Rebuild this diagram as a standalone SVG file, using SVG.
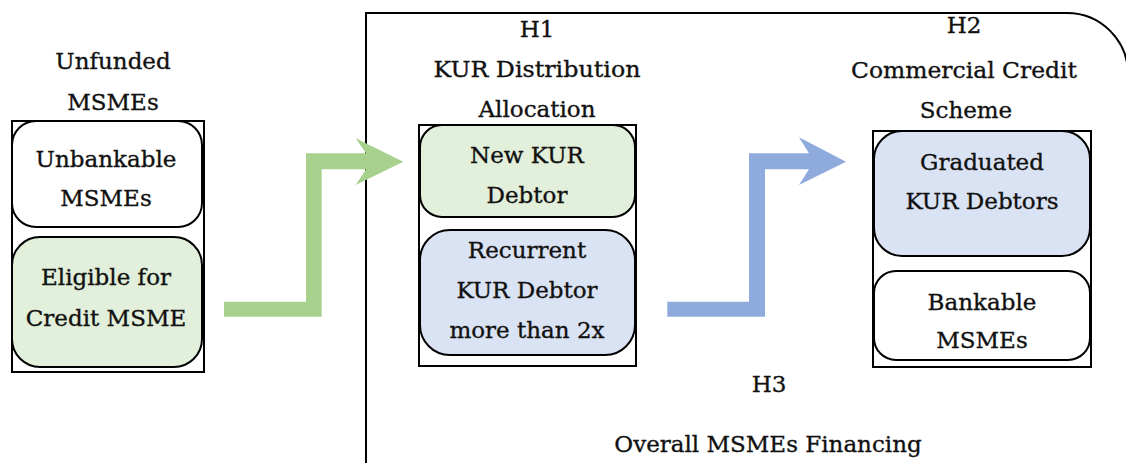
<svg xmlns="http://www.w3.org/2000/svg" width="1126" height="463" viewBox="0 0 1126 463">
<style>
text{font-family:"DejaVu Serif","Liberation Serif",serif;font-size:23px;fill:#111;stroke:#111;stroke-width:0.35;text-anchor:middle}
.frame{fill:#fff;stroke:#000;stroke-width:2}
.box{stroke:#000;stroke-width:2}
.white{fill:#fff}
.green{fill:#e2efda}
.blue{fill:#dae3f3}
</style>
<rect width="1126" height="463" fill="#fff"/>
<g id="overall">
<path d="M366,470 V13 H1067 A61,61 0 0 1 1128,74 V470" fill="none" stroke="#000" stroke-width="2"/>
<text x="769" y="392">H3</text>
<text x="768" y="452">Overall MSMEs Financing</text>
</g>
<g id="unfunded">
<text x="113" y="69">Unfunded</text>
<text x="113" y="110">MSMEs</text>
<rect class="frame" x="12" y="121" width="192" height="251"/>
</g>
<g id="unbankable">
<rect class="box white" x="12" y="121" width="190" height="106" rx="24"/>
<text x="106" y="167">Unbankable</text>
<text x="106" y="206">MSMEs</text>
</g>
<g id="eligible">
<rect class="box green" x="12" y="237" width="190" height="130" rx="28"/>
<text x="106" y="285">Eligible for</text>
<text x="106" y="326">Credit MSME</text>
</g>
<g id="h1">
<text x="537" y="37">H1</text>
<text x="537" y="77" textLength="207" lengthAdjust="spacingAndGlyphs">KUR Distribution</text>
<text x="537" y="117">Allocation</text>
<rect class="frame" x="419" y="125" width="217" height="241"/>
</g>
<g id="new-kur">
<rect class="box green" x="420" y="125" width="215" height="92" rx="22"/>
<text x="527" y="163">New KUR</text>
<text x="527" y="203">Debtor</text>
</g>
<g id="recurrent">
<rect class="box blue" x="420" y="230" width="215" height="125" rx="30"/>
<text x="527" y="258">Recurrent</text>
<text x="527" y="298">KUR Debtor</text>
<text x="527" y="338">more than 2x</text>
</g>
<g id="h2">
<text x="964" y="33">H2</text>
<text x="964" y="78" textLength="226" lengthAdjust="spacingAndGlyphs">Commercial Credit</text>
<text x="966" y="118">Scheme</text>
<rect class="frame" x="873" y="131" width="218" height="236"/>
</g>
<g id="graduated">
<rect class="box blue" x="874" y="131" width="216" height="125" rx="28"/>
<text x="982" y="170">Graduated</text>
<text x="982" y="209">KUR Debtors</text>
</g>
<g id="bankable">
<rect class="box white" x="874" y="271" width="216" height="89" rx="22"/>
<text x="982" y="310">Bankable</text>
<text x="982" y="348">MSMEs</text>
</g>
<g id="connectors">
<polygon fill="#a9d18e" points="224,301.7 306,301.7 306,153.3 366,153.3 355.7,138.3 403.3,161.7 355.7,185 366,169.3 321.7,169.3 321.7,316.7 224,316.7"/>
<polygon fill="#8faadc" points="667.3,301.7 749,301.7 749,153.3 809,153.3 799,137.3 846,161.7 799,185 809,169.3 765,169.3 765,316.7 667.3,316.7"/>
</g>
</svg>
